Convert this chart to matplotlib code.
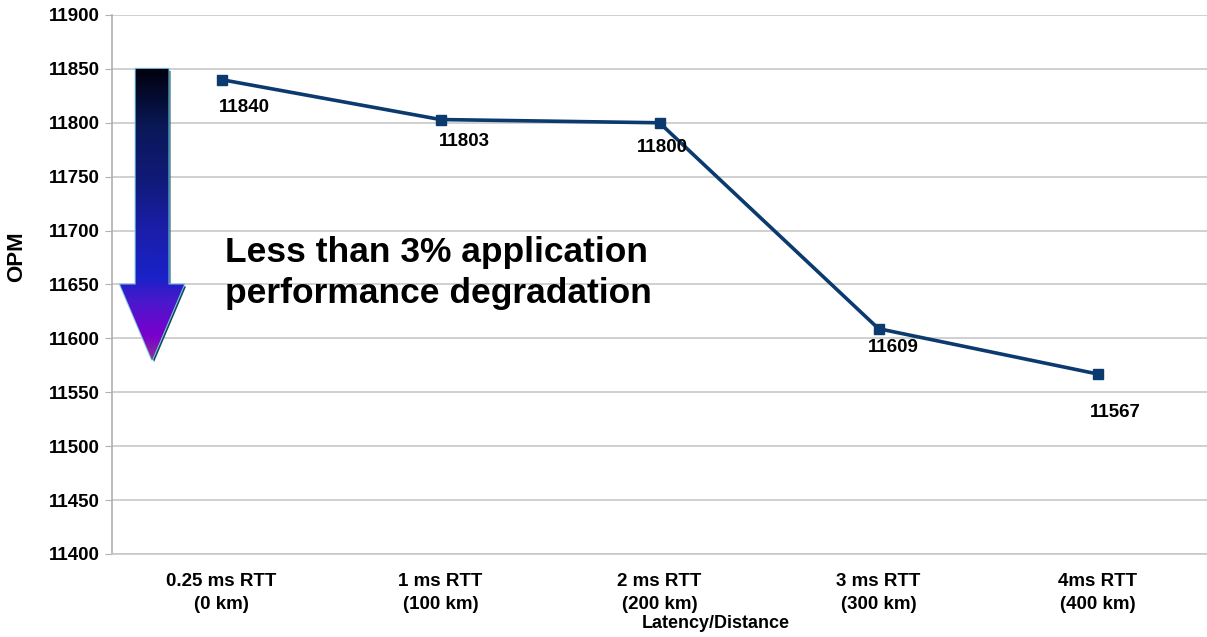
import numpy as np
import matplotlib
matplotlib.use("Agg")
import matplotlib.pyplot as plt
import matplotlib.transforms as mtransforms
from matplotlib.patches import Polygon
from matplotlib.colors import LinearSegmentedColormap

plt.rcParams['font.family'] = ['Liberation Sans', 'DejaVu Sans']
plt.rcParams['font.weight'] = 'bold'

categories = ['0.25 ms RTT\n(0 km)', '1 ms RTT\n(100 km)', '2 ms RTT\n(200 km)',
              '3 ms RTT\n(300 km)', '4ms RTT\n(400 km)']
opm = [11840, 11803, 11800, 11609, 11567]
# label offsets (pixels) from each marker
label_dx = [23, 24, 3, 15, 18]
label_dy = [-28, -22, -25, -19, -39]

line_color = '#0a3a6e'
grid_color = '#c8c8c8'

fig = plt.figure(figsize=(12.07, 6.37), dpi=100)
ax = fig.add_axes([0.0928, 0.1303, 0.9072, 0.8462])

x = np.arange(len(categories))
ax.plot(x, opm, color=line_color, lw=2.6, marker='s', markersize=7.5,
        markerfacecolor=line_color, markeredgecolor=line_color, zorder=5)

for xi, v, dx, dy in zip(x, opm, label_dx, label_dy):
    ax.annotate(str(v), (xi, v), xytext=(dx, dy), textcoords='offset pixels',
                ha='center', va='center', fontsize=13.5, fontweight='bold', zorder=6)

ax.set_xlim(-0.5, len(categories) - 0.5)
ax.set_ylim(11400, 11900)
ax.set_yticks(np.arange(11400, 11901, 50))
ax.set_xticks(x)
ax.set_xticklabels(categories, fontsize=13.5, fontweight='bold', linespacing=1.45)
ax.tick_params(axis='x', length=0, pad=14)
ax.tick_params(axis='y', length=5, color='#b0b0b0', labelsize=13.5, pad=4)
for lbl in ax.get_yticklabels():
    lbl.set_fontweight('bold')

ax.grid(axis='y', color=grid_color, lw=1.2)
ax.set_axisbelow(True)
for s in ['top', 'right']:
    ax.spines[s].set_visible(False)
ax.spines['left'].set_color('#b0b0b0')
ax.spines['bottom'].set_color(grid_color)
ax.spines['left'].set_linewidth(1.2)
ax.spines['bottom'].set_linewidth(1.2)

# gradient arrow
cx, shaft_hw, head_hw = -0.317, 0.075, 0.146
top, head_base, tip = 11850, 11650, 11580
arrow_pts = [(cx - shaft_hw, top), (cx + shaft_hw, top), (cx + shaft_hw, head_base),
             (cx + head_hw, head_base), (cx, tip), (cx - head_hw, head_base),
             (cx - shaft_hw, head_base)]
shadow = Polygon(arrow_pts, closed=True, facecolor='#0b4c5e', edgecolor='none',
                 transform=mtransforms.offset_copy(ax.transData, fig=fig, x=2, y=-2, units='dots'),
                 zorder=6)
ax.add_patch(shadow)
outline = Polygon(arrow_pts, closed=True, facecolor='none', edgecolor='#7ec8e3', lw=1.5, zorder=7)
ax.add_patch(outline)
clip = Polygon(arrow_pts, closed=True, facecolor='none', edgecolor='none', transform=ax.transData)
ax.add_patch(clip)
cmap = LinearSegmentedColormap.from_list('arr', [
    (0.0, '#00000c'), (0.2, '#0a1858'), (0.38, '#101a78'), (0.55, '#1a1ea8'),
    (0.72, '#1a22c8'), (0.8, '#4a18cc'), (0.92, '#7a00cc'), (1.0, '#8a3399')])
grad = np.linspace(0, 1, 256).reshape(-1, 1)
im = ax.imshow(grad, cmap=cmap, aspect='auto', origin='upper',
               extent=(cx - head_hw, cx + head_hw, tip, top), zorder=8)
im.set_clip_path(clip)
ax.set_xlim(-0.5, len(categories) - 0.5)
ax.set_ylim(11400, 11900)

ax.text(0.016, 11632.8, 'Less than 3% application\nperformance degradation',
        fontsize=25.5, fontweight='bold', ha='left', va='baseline', linespacing=1.3, zorder=9)

fig.text(17 / 1207, 1 - 257 / 637, 'OPM', rotation=90, ha='center', va='center',
         fontsize=16, fontweight='bold')
fig.text(716 / 1207, 1 - 624 / 637, 'Latency/Distance', ha='center', va='center',
         fontsize=13, fontweight='bold')

fig.savefig('out.png', dpi=100)
